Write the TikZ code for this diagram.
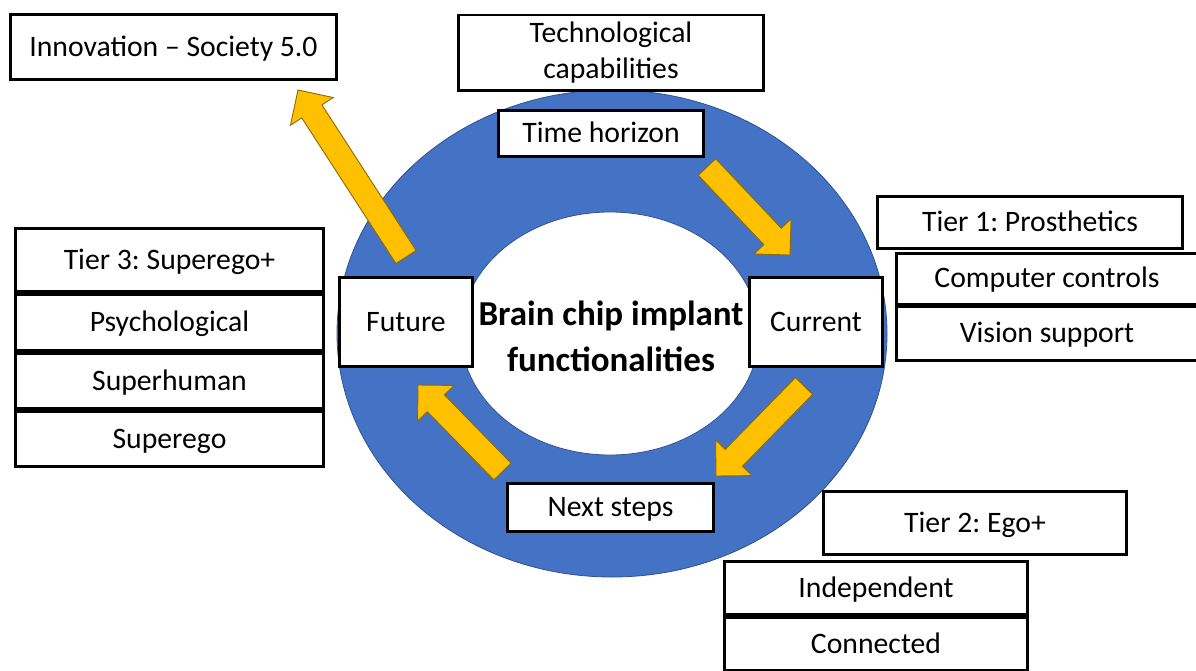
\documentclass[tikz,border=0pt]{standalone}
\usepackage{fontspec}
\setmainfont{Carlito}
\usetikzlibrary{calc}
\frenchspacing

\definecolor{ringblue}{HTML}{4472C4}
\definecolor{ringedge}{HTML}{2F528F}
\definecolor{arrowfill}{HTML}{FFC000}
\definecolor{arrowedge}{HTML}{8C6A00}

\tikzset{
  box/.style={draw=black, line width=2.6pt, fill=white, inner sep=0pt,
    align=center, font=\fontsize{29.7pt}{36pt}\selectfont},
  oneline/.style={box, text height=23pt, text depth=5pt},
  arrowbody/.style={fill=arrowfill, draw=arrowedge, line width=0.9pt, line join=miter},
}

% block arrow from a named tail point to a named tip point
\newcommand\blockarrow[2]{%
  \coordinate (#1-h) at ($(#2)!25.5pt!(#1)$);
  \draw[arrowbody]
    ($(#1)!12pt!90:(#2)$) -- ($(#1-h)!12pt!90:(#2)$) -- ($(#1-h)!25.5pt!90:(#2)$)
    -- (#2)
    -- ($(#1-h)!25.5pt!-90:(#2)$) -- ($(#1-h)!12pt!-90:(#2)$) -- ($(#1)!12pt!-90:(#2)$)
    -- cycle;}

\begin{document}
\begin{tikzpicture}[x=1pt, y=-1pt]
  \useasboundingbox (0,0) rectangle (1196,670);
  \clip (0,0) rectangle (1196,670);

  % the ring
  \fill[ringblue, draw=ringedge, line width=0.8pt] (612,333.5) ellipse [x radius=275, y radius=243.5];
  \fill[white, draw=ringedge, line width=0.8pt] (610,333.5) ellipse [x radius=149, y radius=121.5];

  % title in the middle
  \node[align=center, font=\fontsize{35pt}{46pt}\selectfont\bfseries] (title) at (611,336)
    {Brain chip implant\\functionalities};

  % arrow end points
  \coordinate (a1) at (406,257);   \coordinate (b1) at (298,90);
  \coordinate (a2) at (707,167);   \coordinate (b2) at (790,255);
  \coordinate (a3) at (804,386);   \coordinate (b3) at (716,476);
  \coordinate (a4) at (502.5,471.5); \coordinate (b4) at (418,385);
  \blockarrow{a1}{b1}
  \blockarrow{a2}{b2}
  \blockarrow{a3}{b3}
  \blockarrow{a4}{b4}

  % top boxes
  \node[oneline, minimum width=326.4, minimum height=65.4] (innov) at (173.5,47) {Innovation – Society 5.0};
  \node[box, minimum width=305.4, minimum height=75.4] (tech) at (611,52.5) {Technological\\capabilities};
  \node[oneline, minimum width=205.4, minimum height=46.4] (time) at (601,133.5) {Time horizon};

  % ring stations
  \node[oneline, minimum width=133.4, minimum height=89.4] (future) at (406,322) {Future};
  \node[oneline, minimum width=133.4, minimum height=89.4] (current) at (816,322) {Current};
  \node[oneline, minimum width=206.4, minimum height=48.4] (next) at (610.5,507.5) {Next steps};

  % tier 1
  \node[oneline, minimum width=305.4, minimum height=52.4] (t1) at (1030,222.5) {Tier 1: Prosthetics};
  \node[oneline, minimum width=301.4, minimum height=50.9] (t1a) at (1047,278.75) {Computer controls};
  \node[oneline, minimum width=301.4, minimum height=53.9] (t1b) at (1047,333.75) {Vision support};

  % tier 3
  \node[oneline, minimum width=308.4, minimum height=63.4] (t3) at (169.5,260) {Tier 3: Superego+};
  \node[oneline, minimum width=308.4, minimum height=56.4] (t3a) at (169.5,322.5) {Psychological};
  \node[oneline, minimum width=308.4, minimum height=55.4] (t3b) at (169.5,381) {Superhuman};
  \node[oneline, minimum width=308.4, minimum height=55.4] (t3c) at (169.5,439) {Superego};

  % tier 2
  \node[oneline, minimum width=303.4, minimum height=63.4] (t2) at (975,523) {Tier 2: Ego+};
  \node[oneline, minimum width=303.4, minimum height=53.4] (t2a) at (876,588) {Independent};
  \node[oneline, minimum width=303.4, minimum height=53.4] (t2b) at (876,644) {Connected};
\end{tikzpicture}
\end{document}
